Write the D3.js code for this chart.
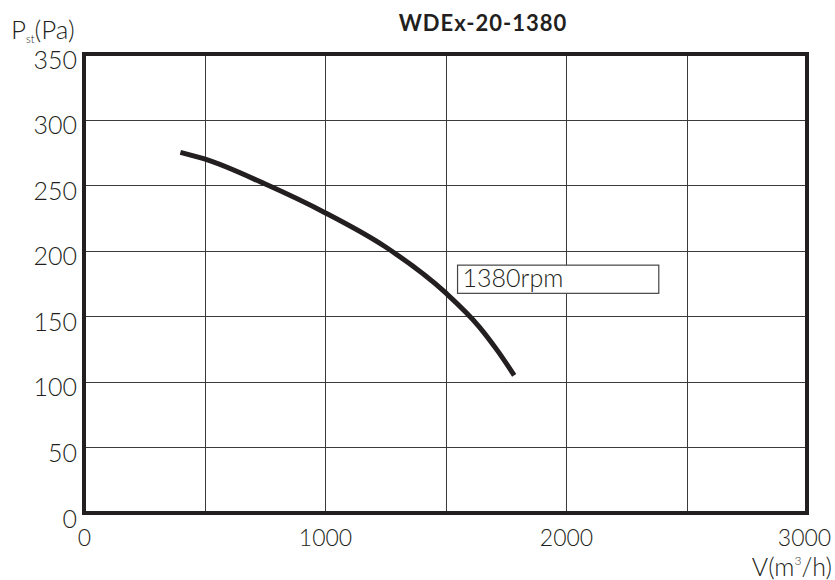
<!DOCTYPE html>
<html>
<head>
<meta charset="utf-8">
<script src="https://cdn.jsdelivr.net/npm/d3@7"></script>
<style>
  body { margin: 0; background: #fff; }
  svg { font-family: Lato, "DejaVu Sans", sans-serif; }
</style>
</head>
<body>
<svg id="svg" width="835" height="580"></svg>
<script>
// curve
const flow = [400, 500, 750, 1000, 1250, 1500, 1640, 1715, 1785]
const pressure = [275, 270, 251, 229, 203, 168, 142, 124, 105]

const xTicks = [0, 500, 1000, 1500, 2000, 2500, 3000]
const xTickLabels = ["0", "", "1000", "", "2000", "", "3000"]
const yTicks = [0, 50, 100, 150, 200, 250, 300, 350]

const title = "WDEx-20-1380"
const curveLabel = "1380rpm"

const sizes = { width: 835, height: 580 }
const margin = { top: 54, right: 28, bottom: 67, left: 84 }

const x = d3.scaleLinear()
  .domain([0, 3000])
  .range([margin.left, sizes.width - margin.right])

const y = d3.scaleLinear()
  .domain([0, 350])
  .range([sizes.height - margin.bottom, margin.top])

const svg = d3.select("#svg")
const ink = "#231f20"

// grid + ticks
svg.append("g")
  .attr("transform", `translate(0,${y(0)})`)
  .call(d3.axisBottom(x).tickValues(xTicks)
    .tickSize(-(y(0) - y(350)))
    .tickFormat((d, i) => xTickLabels[i]))
  .call(g => g.select(".domain").remove())
  .call(g => g.selectAll("line").attr("stroke", "#3a3a3a").attr("shape-rendering", "crispEdges"))
  .call(g => g.selectAll("text")
    .attr("y", 33).attr("dy", 0)
    .attr("font-size", "23px").attr("font-weight", 300).attr("fill", ink)
    .attr("font-family", "Lato, sans-serif"))
  .call(g => g.selectAll(".tick:last-of-type text").attr("dx", -3))

svg.append("g")
  .attr("transform", `translate(${x(0)},0)`)
  .call(d3.axisLeft(y).tickValues(yTicks)
    .tickSize(-(x(3000) - x(0)))
    .tickPadding(7))
  .call(g => g.select(".domain").remove())
  .call(g => g.selectAll("line").attr("stroke", "#3a3a3a").attr("shape-rendering", "crispEdges"))
  .call(g => g.selectAll("text")
    .attr("dy", "0.32em").attr("y", 6)
    .attr("font-size", "25px").attr("font-weight", 300).attr("fill", ink)
    .attr("font-family", "Lato, sans-serif"))

// frame
svg.append("rect")
  .attr("x", x(0))
  .attr("y", y(350))
  .attr("width", x(3000) - x(0))
  .attr("height", y(0) - y(350))
  .attr("fill", "none")
  .attr("stroke", ink)
  .attr("stroke-width", 4)

// curve
const line = d3.line()
  .x(d => x(d[0]))
  .y(d => y(d[1]))
  .curve(d3.curveMonotoneX)

svg.append("path")
  .datum(d3.zip(flow, pressure))
  .attr("d", line)
  .attr("fill", "none")
  .attr("stroke", ink)
  .attr("stroke-width", 5)

// label box
const lbl = svg.append("g")
lbl.append("rect")
  .attr("x", x(1550))
  .attr("y", y(189))
  .attr("width", x(2385) - x(1550))
  .attr("height", y(167.5) - y(189))
  .attr("fill", "#fff")
  .attr("stroke", "#444")
  .attr("stroke-width", 1.2)
lbl.append("text")
  .attr("x", x(1550) + 5)
  .attr("y", y(167.5) - 6)
  .attr("font-size", "25px")
  .attr("font-weight", 300)
  .attr("fill", ink)
  .text(curveLabel)

// title
svg.append("text")
  .attr("x", 483)
  .attr("y", 31)
  .attr("text-anchor", "middle")
  .attr("font-size", "22px")
  .attr("font-weight", "bold")
  .attr("letter-spacing", "1px")
  .attr("fill", ink)
  .text(title)

// y axis title
const yt = svg.append("text")
  .attr("x", 11)
  .attr("y", 39)
  .attr("font-size", "26px")
  .attr("font-weight", 300)
  .attr("fill", ink)
yt.append("tspan").text("P")
yt.append("tspan").attr("font-size", "11px").attr("dy", 4).text("st")
yt.append("tspan").attr("dy", -4).text("(Pa)")

// x axis title
const xt = svg.append("text")
  .attr("x", 832)
  .attr("y", 576)
  .attr("text-anchor", "end")
  .attr("font-size", "25px")
  .attr("font-weight", 300)
  .attr("fill", ink)
xt.append("tspan").text("V(m")
xt.append("tspan").attr("font-size", "12px").attr("dy", -11).text("3")
xt.append("tspan").attr("dy", 11).text("/h)")
</script>
</body>
</html>
